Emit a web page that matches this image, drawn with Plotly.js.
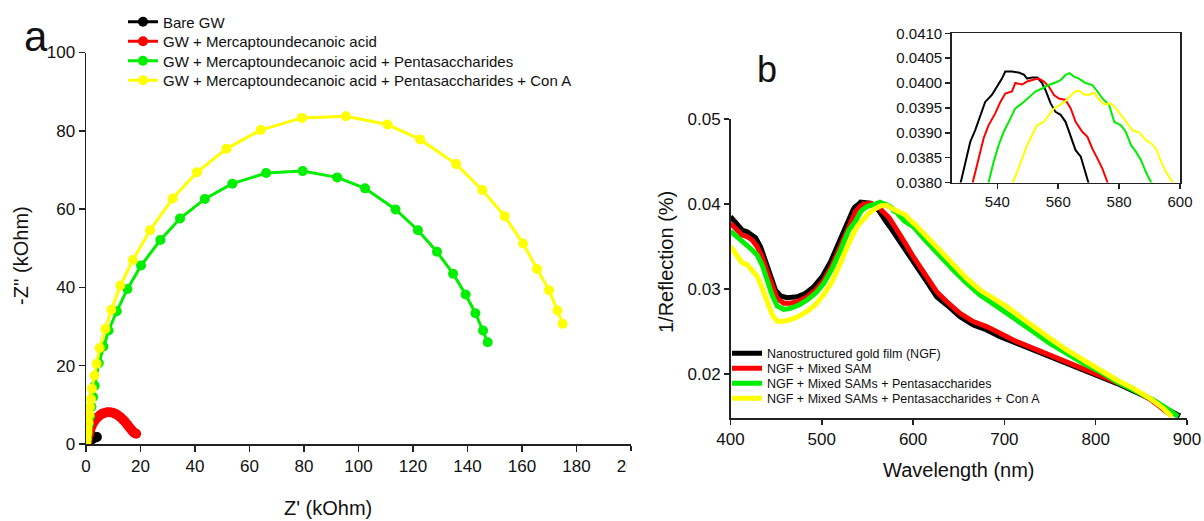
<!DOCTYPE html>
<html>
<head>
<meta charset="utf-8">
<script src="https://cdn.plot.ly/plotly-3.0.1.min.js"></script>
<style>html,body{margin:0;padding:0;background:#fff;}#chart{width:1204px;height:521px;}</style>
</head>
<body>
<div id="chart"></div>
<script>
// ---------- Panel a : Nyquist plots (kOhm) ----------
const eisNames = ["Bare GW", "GW + Mercaptoundecanoic acid", "GW + Mercaptoundecanoic acid + Pentasaccharides", "GW + Mercaptoundecanoic acid + Pentasaccharides + Con A"];
const eisColors = ["#000000", "#ff0000", "#00ee00", "#ffff00"];

const bareZre = [0.3, 0.8, 1.4, 2.0, 2.6, 3.1, 3.6, 4.0];
const bareZim = [0.2, 0.5, 0.8, 1.1, 1.4, 1.6, 1.7, 1.8];

const mudaZre = [0.6, 1.1, 1.6, 2.1, 2.7, 3.4, 4.2, 5.0, 5.9, 6.8, 7.8, 8.8, 9.8, 10.8, 11.8, 12.7, 13.6, 14.4, 15.2, 15.9, 16.6, 17.2, 17.8, 18.4];
const mudaZim = [1.0, 2.4, 3.6, 4.6, 5.5, 6.2, 6.8, 7.3, 7.7, 7.9, 8.1, 8.1, 8.0, 7.7, 7.3, 6.8, 6.2, 5.6, 4.9, 4.3, 3.7, 3.2, 2.8, 2.6];

const pentaZre = [0.1, 0.3, 0.6, 1.0, 1.5, 2.0, 2.6, 3.2, 4.7, 6.4, 8.3, 11.3, 15.2, 20.2, 27.3, 34.5, 43.6, 53.7, 66.1, 79.5, 92.2, 102.4, 113.6, 121.8, 128.8, 134.7, 139.3, 142.9, 145.7, 147.4];
const pentaZim = [0.5, 1.5, 3.0, 5.0, 7.0, 9.5, 12.0, 14.9, 20.7, 24.9, 29.0, 33.9, 39.6, 45.6, 52.1, 57.6, 62.6, 66.5, 69.2, 69.7, 68.1, 65.3, 59.9, 54.6, 49.1, 43.5, 38.2, 33.4, 29.0, 26.0];

const conaZre = [0.1, 0.2, 0.4, 0.6, 0.9, 1.2, 1.5, 1.8, 2.2, 3.1, 3.9, 5.0, 7.1, 9.3, 12.6, 17.2, 23.5, 31.8, 40.7, 51.5, 64.1, 79.2, 95.4, 110.6, 122.6, 135.8, 145.4, 153.6, 160.4, 165.5, 169.9, 173.0, 174.9];
const conaZim = [0.4, 1.2, 2.5, 3.8, 5.5, 7.5, 9.5, 11.5, 14.1, 17.5, 20.5, 24.5, 29.4, 34.3, 40.5, 47.0, 54.6, 62.7, 69.4, 75.4, 80.2, 83.3, 83.7, 81.6, 77.8, 71.5, 64.9, 58.2, 51.2, 44.7, 39.3, 34.1, 30.7];

const eisX = [bareZre, mudaZre, pentaZre, conaZre];
const eisY = [bareZim, mudaZim, pentaZim, conaZim];

// ---------- Panel b : 1/Reflection spectra ----------
const specNames = ["Nanostructured gold film (NGF)", "NGF + Mixed SAM", "NGF + Mixed SAMs + Pentasaccharides", "NGF + Mixed SAMs + Pentasaccharides + Con A"];
const specColors = ["#000000", "#ff0000", "#00ee00", "#ffff00"];

const ngfWl = [400, 407.3, 412.7, 418.2, 423.7, 427.4, 432.9, 438.4, 443.8, 449.3, 454.8, 462, 473, 482.2, 491.3, 500.4, 509.6, 518.6,
  528.1, 529.4, 531.1, 532.7, 534.4, 536.0, 538.2, 539.9, 541.5, 542.6, 544.8, 547.0, 548.7, 549.8, 551.4, 553.1, 554.7, 555.8, 557.5, 559.1, 560.8, 562.4, 564.1, 565.7, 567.4, 568.5, 569.9,
  577, 586.2, 595.3, 600.2, 614.9, 625.8, 636.8, 651.4, 665.9, 680.6, 695.2, 713.5, 731.7, 749.9, 768.2, 786.4, 804.7, 823, 841.2, 859.5, 874, 885, 892.3];
const ngfVal = [0.03851, 0.03753, 0.03694, 0.03674, 0.03635, 0.03604, 0.03498, 0.03321, 0.03145, 0.02988, 0.02918, 0.02898, 0.02909, 0.02949, 0.03027, 0.03145, 0.03321, 0.03556,
  0.0380, 0.03835, 0.03882, 0.03905, 0.03936, 0.03962, 0.03976, 0.03993, 0.04009, 0.04023, 0.04023, 0.04021, 0.04017, 0.04009, 0.04011, 0.04011, 0.0400, 0.03986, 0.03959, 0.03942, 0.03936, 0.03922, 0.03892, 0.03865, 0.03852, 0.03828, 0.0380,
  0.03694, 0.03538, 0.0338, 0.03321, 0.03086, 0.02909, 0.02812, 0.02674, 0.02576, 0.02518, 0.02439, 0.02361, 0.02282, 0.02204, 0.02126, 0.02047, 0.01968, 0.0189, 0.0180, 0.0171, 0.0161, 0.0154, 0.01506];

const samWl = [400, 407.3, 412.7, 418.2, 423.7, 429.2, 434.7, 440.2, 445.6, 451.1, 458.4, 465.7, 474.9, 484, 493.1, 502.2, 511.4, 520.5, 529.6,
  531.9, 533.8, 535.5, 537.1, 539.3, 541, 542.6, 544.8, 545.9, 548.1, 549.8, 552, 553.6, 555.3, 556.9, 558.6, 560.2, 562.4, 564.1, 565.7, 567.9, 569.6, 571.2, 572.9, 574.5, 576.2,
  583, 591.8, 600.2, 614.9, 625.8, 636.8, 651.4, 665.9, 680.6, 695.2, 713.5, 731.7, 749.9, 768.2, 786.4, 804.7, 823, 841.2, 859.5, 874, 882];
const samVal = [0.03773, 0.03694, 0.03635, 0.03615, 0.03576, 0.03498, 0.0338, 0.03204, 0.03027, 0.0289, 0.02831, 0.02831, 0.02859, 0.02909, 0.02988, 0.03106, 0.03282, 0.03518, 0.03753,
  0.0380, 0.03848, 0.03889, 0.03915, 0.03939, 0.03962, 0.03979, 0.03983, 0.0400, 0.03997, 0.04003, 0.04007, 0.04009, 0.04003, 0.03993, 0.03976, 0.03969, 0.03966, 0.03949, 0.03922, 0.03902, 0.03892, 0.03868, 0.03848, 0.03828, 0.0380,
  0.0370, 0.0353, 0.0338, 0.03145, 0.02968, 0.02851, 0.02714, 0.02616, 0.02557, 0.02479, 0.0238, 0.02302, 0.02224, 0.02145, 0.02067, 0.01988, 0.01909, 0.0182, 0.01705, 0.01596, 0.01518];

const pentaWl = [400, 407.3, 412.7, 418.2, 423.7, 429.2, 434.7, 440.2, 445.6, 451.1, 458.4, 465.7, 474.9, 484, 493.1, 502.2, 511.4, 520.5, 529.6,
  537.1, 538.8, 540.4, 542.1, 544.3, 545.9, 548.1, 550.3, 552.5, 554.7, 556.9, 559.1, 560.8, 562.4, 563.7, 565.2, 566.8, 569, 571.2, 572.9, 574.5, 576.7, 578.4, 580.6, 582.2, 583.9, 585.5, 587.2, 588.8, 590.5,
  600.2, 614.9, 629.5, 644, 658.7, 673.3, 684.2, 695.2, 713.5, 731.7, 749.9, 768.2, 786.4, 804.7, 823, 841.2, 863.1, 877.7, 890.4];
const pentaVal = [0.0368, 0.03615, 0.03557, 0.03518, 0.03459, 0.034, 0.03282, 0.03106, 0.02929, 0.028, 0.02761, 0.02772, 0.02812, 0.02871, 0.02949, 0.03066, 0.03243, 0.03459, 0.03694,
  0.0380, 0.03842, 0.03875, 0.03902, 0.03929, 0.03949, 0.03959, 0.03972, 0.03983, 0.03989, 0.03996, 0.04001, 0.04006, 0.04016, 0.0402, 0.04013, 0.04009, 0.0400, 0.03996, 0.03983, 0.03969, 0.03956, 0.03922, 0.03915, 0.03902, 0.03875, 0.03862, 0.03845, 0.03821, 0.0380,
  0.03733, 0.03556, 0.0338, 0.03224, 0.03067, 0.0293, 0.02851, 0.02773, 0.02635, 0.02498, 0.02361, 0.02243, 0.02126, 0.02027, 0.01909, 0.01812, 0.01694, 0.01596, 0.01498];

const conaWl = [400, 407.3, 412.7, 418.2, 423.7, 429.2, 434.7, 440.2, 445.6, 451.1, 458.4, 465.7, 474.9, 484, 493.1, 502.2, 511.4, 520.5, 529.6, 538.8,
  545, 546.5, 548.1, 549.8, 551.4, 553.1, 555.3, 556.9, 558.6, 560.8, 562.4, 564.1, 565.7, 566.8, 568.5, 570.1, 571.8, 573.4, 575.1, 577.3, 578.9, 580.6, 582.2, 584.4, 586.6, 588.8, 590.5, 592.1, 593.8, 595.4, 597.1, 597.6,
  602, 614.9, 629.5, 644, 658.7, 673.3, 687.9, 702.6, 717.2, 731.7, 749.9, 768.2, 786.4, 804.7, 823, 841.2, 859.5, 874, 883.2];
const conaVal = [0.03502, 0.03384, 0.03306, 0.03286, 0.03227, 0.03149, 0.03012, 0.02835, 0.02698, 0.0262, 0.0262, 0.0264, 0.02679, 0.02738, 0.02816, 0.02934, 0.03091, 0.03306, 0.03541, 0.03737,
  0.0380, 0.03821, 0.03848, 0.03875, 0.03895, 0.03915, 0.03922, 0.03936, 0.03949, 0.03957, 0.03964, 0.03975, 0.03983, 0.03985, 0.03977, 0.03976, 0.03981, 0.03966, 0.03957, 0.03959, 0.03949, 0.03936, 0.03922, 0.03905, 0.03901, 0.03885, 0.03879, 0.03868, 0.03842, 0.03821, 0.03805, 0.0380,
  0.0376, 0.03615, 0.03439, 0.03282, 0.03125, 0.02988, 0.0289, 0.02792, 0.02674, 0.02557, 0.02419, 0.02282, 0.02165, 0.02047, 0.01929, 0.01831, 0.01714, 0.01596, 0.01498];

const specX = [ngfWl, samWl, pentaWl, conaWl];
const specY = [ngfVal, samVal, pentaVal, conaVal];

// ---------- build ----------
const W = 1204, H = 521;
const fx = v => v / W;
const fy = v => 1 - v / H;
const FONT = "Liberation Sans, Arial, sans-serif";
const AX = "#222";

// legend rows (pixel tops of each one-entry legend)
const legARowTop = [5.5, 25, 44.5, 64];
const legBRowTop = [338.5, 353.5, 368.5, 383.5];

const traces = [];
const legendDefs = {};
for (let i = 0; i < 4; i++) {
  const key = i === 0 ? "legend" : "legend" + (i + 1);
  traces.push({
    type: "scatter", mode: "lines+markers", name: eisNames[i],
    x: eisX[i], y: eisY[i], xaxis: "x", yaxis: "y", legend: key,
    line: {color: eisColors[i], width: 3},
    marker: {color: eisColors[i], size: 10}
  });
  legendDefs[key] = {x: fx(123), y: fy(legARowTop[i]), xanchor: "left", yanchor: "top",
    bgcolor: "rgba(0,0,0,0)", borderwidth: 0, font: {family: FONT, size: 15, color: "#111"}};
}
for (let i = 0; i < 4; i++) {
  const key = "legend" + (i + 5);
  traces.push({
    type: "scatter", mode: "lines", name: specNames[i],
    x: specX[i], y: specY[i], xaxis: "x2", yaxis: "y2", legend: key,
    line: {color: specColors[i], width: 5}
  });
  legendDefs[key] = {x: fx(727), y: fy(legBRowTop[i]), xanchor: "left", yanchor: "top",
    bgcolor: "rgba(0,0,0,0)", borderwidth: 0, font: {family: FONT, size: 12.5, color: "#111"}};
}
for (let i = 0; i < 4; i++) {
  traces.push({
    type: "scatter", mode: "lines", name: specNames[i], showlegend: false,
    x: specX[i], y: specY[i], xaxis: "x3", yaxis: "y3",
    line: {color: specColors[i], width: 2}
  });
}

const baseAxis = {
  showline: true, linecolor: AX, linewidth: 1.5, ticks: "outside", ticklen: 6, tickwidth: 1.5,
  tickcolor: AX, showgrid: false, zeroline: false, fixedrange: true,
  tickfont: {family: FONT, size: 17, color: "#111"}
};

const ann = (text, x, y, size, angle) => ({
  text: text, xref: "paper", yref: "paper", x: fx(x), y: fy(y),
  xanchor: "center", yanchor: "middle", showarrow: false,
  textangle: angle || 0, font: {family: FONT, size: size, color: "#111"}
});

const layout = Object.assign({
  width: W, height: H, margin: {l: 0, r: 0, t: 0, b: 0},
  paper_bgcolor: "#fff", plot_bgcolor: "rgba(0,0,0,0)",
  font: {family: FONT, color: "#111"},
  xaxis: Object.assign({}, baseAxis, {domain: [fx(86), fx(631)], range: [0, 200], tick0: 0, dtick: 20, anchor: "y"}),
  yaxis: Object.assign({}, baseAxis, {domain: [fy(444), fy(52.5)], range: [0, 100], tick0: 0, dtick: 20, anchor: "x"}),
  xaxis2: Object.assign({}, baseAxis, {domain: [fx(730.5), fx(1187)], range: [400, 900], tick0: 400, dtick: 100, anchor: "y2", ticklen: 5}),
  yaxis2: Object.assign({}, baseAxis, {domain: [fy(418), fy(119)], range: [0.01482, 0.05], tick0: 0.02, dtick: 0.01, anchor: "x2", ticklen: 5}),
  xaxis3: Object.assign({}, baseAxis, {domain: [fx(951.7), fx(1180)], range: [525, 600], tick0: 520, dtick: 20, anchor: "y3", mirror: true, ticklen: 5,
    tickfont: {family: FONT, size: 15, color: "#111"}}),
  yaxis3: Object.assign({}, baseAxis, {domain: [fy(182.5), fy(33.3)], range: [0.038, 0.041], tick0: 0.038, dtick: 0.0005, tickformat: ".4f", anchor: "x3", mirror: true, ticklen: 5,
    tickfont: {family: FONT, size: 15, color: "#111"}}),
  annotations: [
    ann("a", 36, 36, 42),
    ann("b", 767, 70, 36),
    ann("Z' (kOhm)", 328, 508, 20),
    ann("-Z'' (kOhm)", 21, 256, 20, -90),
    ann("Wavelength (nm)", 959, 470, 20),
    ann("1/Reflection (%)", 666, 262, 20, -90)
  ],
  shapes: [
    {type: "rect", xref: "paper", yref: "paper", x0: fx(627), x1: fx(662), y0: fy(492), y1: fy(451),
     fillcolor: "#fff", line: {width: 0}, layer: "above"}
  ],
  showlegend: true
}, legendDefs);

Plotly.newPlot("chart", traces, layout, {displayModeBar: false, staticPlot: true});
</script>
</body>
</html>
